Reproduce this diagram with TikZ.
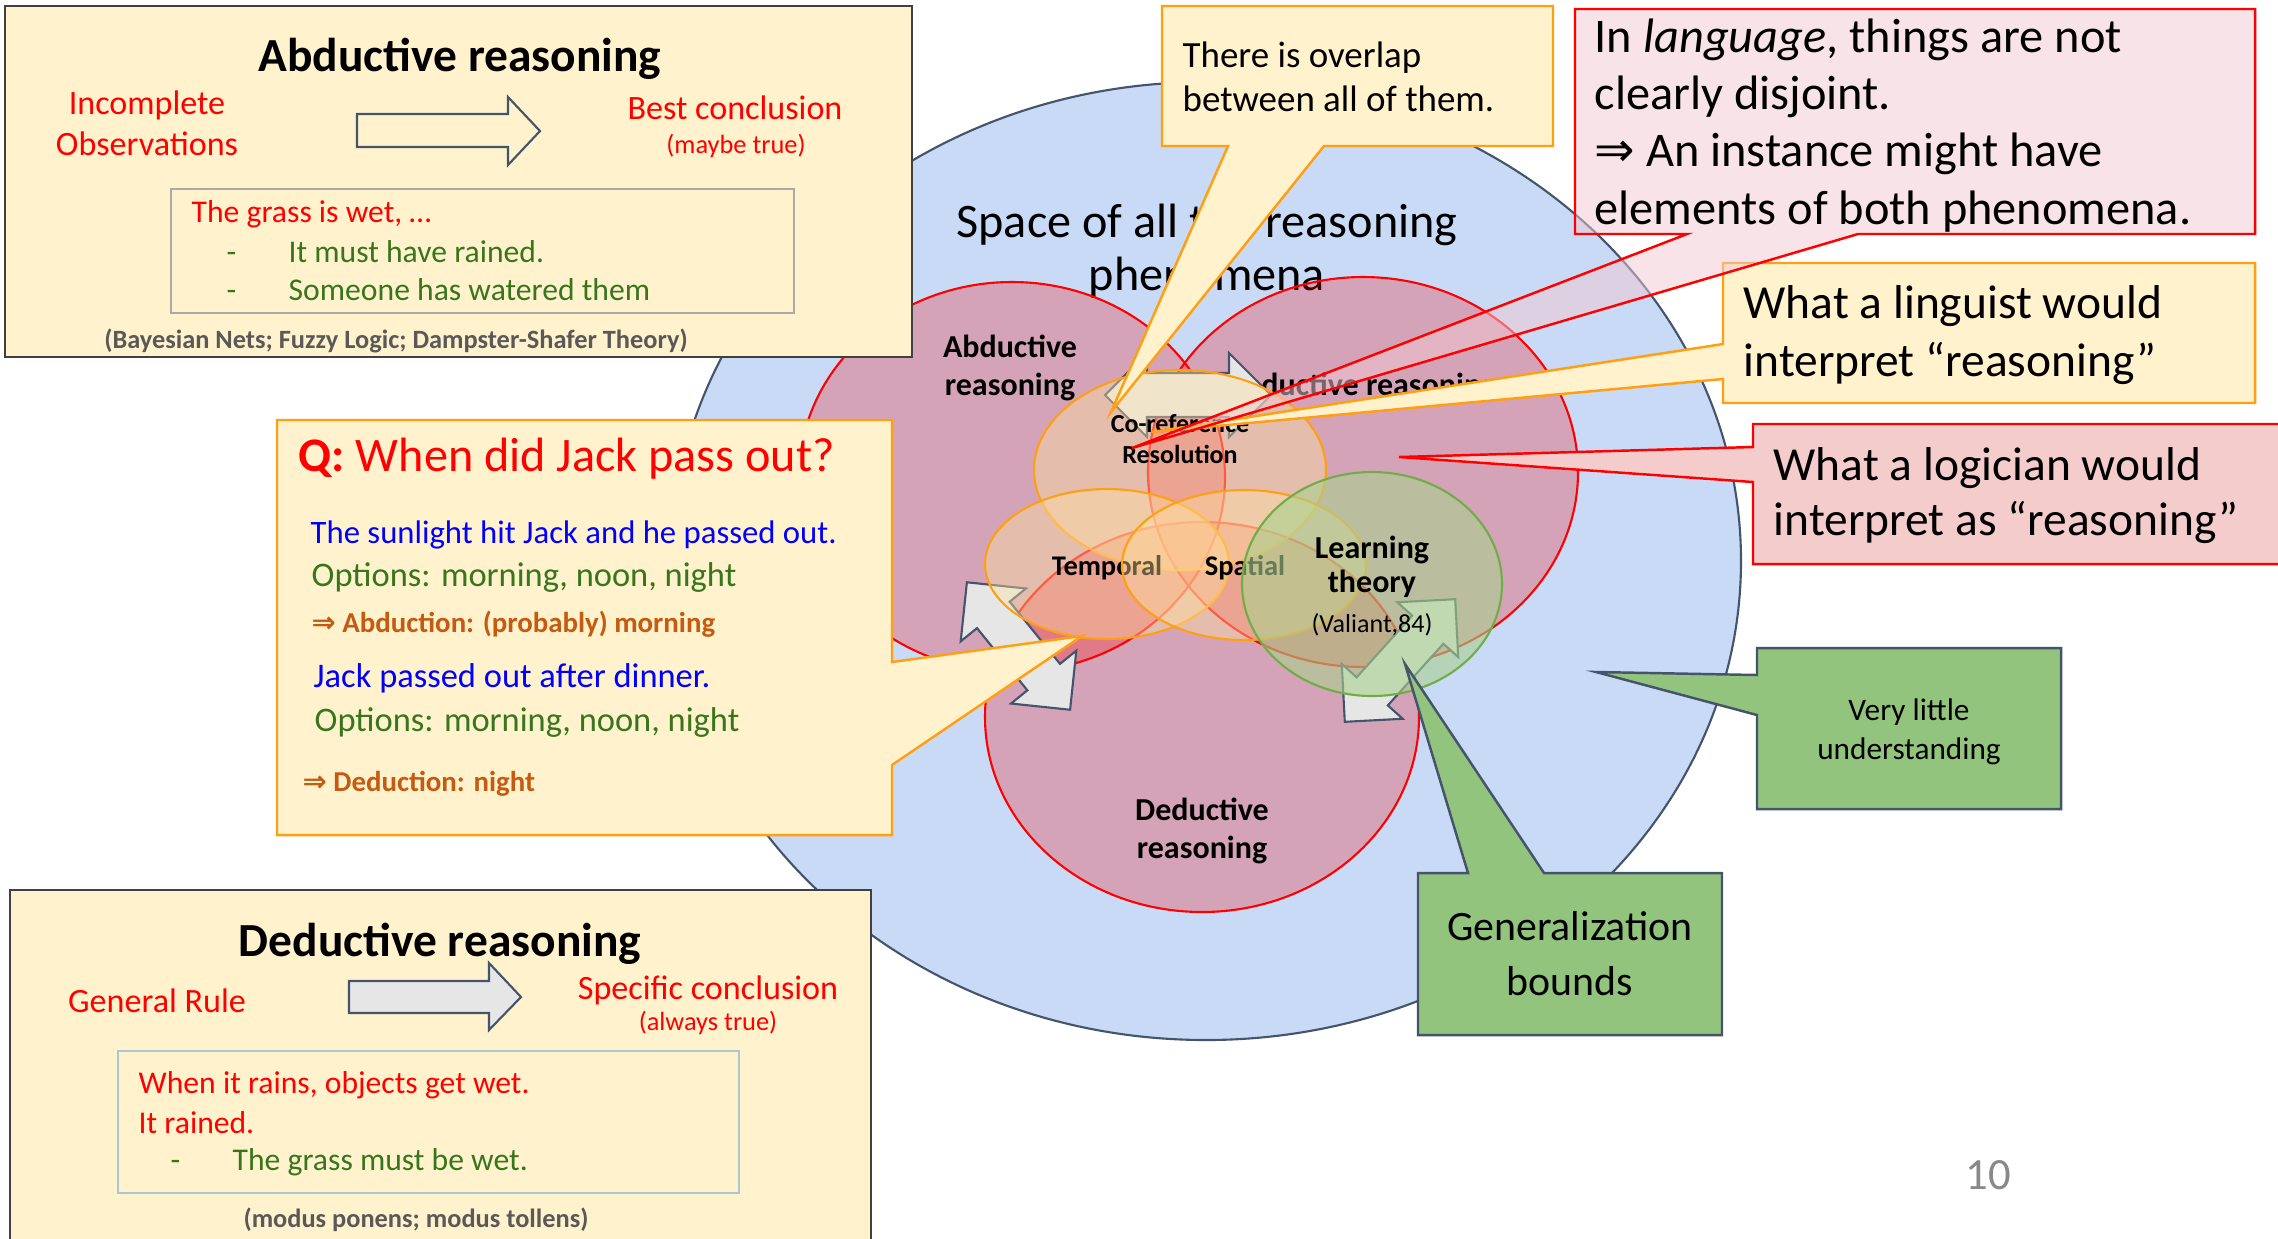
\documentclass[tikz,border=0pt]{standalone}
\usepackage{fontspec}
\setmainfont{Carlito}
\newfontfamily\symfont{DejaVu Sans}
\newcommand\fsz[1]{\fontsize{#1}{#1}\selectfont}
\newcommand\implsym{{\symfont ⇒}}

\definecolor{creamfill}{RGB}{255,242,204}
\definecolor{orangeline}{RGB}{255,160,20}
\definecolor{slate}{RGB}{68,84,106}
\definecolor{skyfill}{RGB}{200,218,245}
\definecolor{boxline}{RGB}{64,64,64}
\definecolor{txtred}{RGB}{255,0,0}
\definecolor{txtgreen}{RGB}{56,118,29}
\definecolor{txtblue}{RGB}{0,0,255}
\definecolor{txtbrown}{RGB}{197,90,17}
\definecolor{notegrey}{RGB}{89,89,89}
\definecolor{leafgreen}{RGB}{147,196,125}
\definecolor{rosefill}{RGB}{242,200,210}
\definecolor{pinkbox}{RGB}{244,204,204}
\definecolor{arrowgrey}{RGB}{231,230,230}
\definecolor{pagegrey}{RGB}{137,137,137}
\definecolor{ellfill}{RGB}{255,228,160}
\definecolor{learnfill}{RGB}{169,209,142}
\definecolor{learnline}{RGB}{112,173,71}
\definecolor{innerA}{RGB}{170,170,170}
\definecolor{innerD}{RGB}{170,200,210}

% double-headed block arrow: centre x, centre y, angle, half length, head half width, shaft half width
\newcommand\dblarrow[6]{%
  \begin{scope}[shift={(#1,#2)}, rotate=#3]
    \draw[greyarrow] (-#4,0) -- ({-#4+#5},-#5) -- ({-#4+#5},-#6) -- ({#4-#5},-#6)
      -- ({#4-#5},-#5) -- (#4,0) -- ({#4-#5},#5) -- ({#4-#5},#6) -- ({-#4+#5},#6)
      -- ({-#4+#5},#5) -- cycle;
  \end{scope}}

\begin{document}
\begin{tikzpicture}[x={(0.01cm,0)}, y={(0,-0.01cm)},
  lbl/.style={inner sep=0pt, anchor=base},
  lbll/.style={inner sep=0pt, anchor=base west},
  redset/.style={draw=red, fill=red, fill opacity=0.25, line width=0.6pt},
  orset/.style={draw=orangeline, fill=ellfill, fill opacity=0.4, line width=0.6pt},
  greyarrow/.style={draw=slate, fill=arrowgrey, line width=0.6pt, line join=miter},
  creamcallout/.style={draw=orangeline, fill=creamfill, line width=0.7pt, line join=miter},
  greencallout/.style={draw=slate, fill=leafgreen, line width=0.7pt, line join=miter},
  infobox/.style={draw=boxline, fill=creamfill, line width=0.7pt},
  circlabel/.style={lbl, font=\fsz{9.1}\bfseries},
]
\useasboundingbox (0,0) rectangle (2278,1238);
\fill[white] (0,0) rectangle (2278,1238);

% ---------- space of all reasoning phenomena ----------
\draw[draw=slate, fill=skyfill, line width=0.6pt] (1206,561) ellipse [x radius=535, y radius=479];
\node[lbl, font=\fsz{13.7}] (space1) at (1207,237) {Space of all the reasoning};
\node[lbl, font=\fsz{13.7}] (space2) at (1207,290) {phenomena};

% ---------- the three reasoning families ----------
\path[redset] (1012,477) ellipse [x radius=213, y radius=195];
\path[redset] (1363,472) ellipse [x radius=215, y radius=195];
\path[redset] (1202,717) ellipse [x radius=217, y radius=195];
\node[circlabel] (abd1) at (1010,357) {Abductive};
\node[circlabel] (abd2) at (1010,395) {reasoning};
\node[circlabel] (ind) at (1366,395) {Inductive reasoning};
\node[circlabel] (ded1) at (1202,820) {Deductive};
\node[circlabel] (ded2) at (1202,858) {reasoning};

% ---------- links between the families ----------
\dblarrow{1188}{395}{0}{83}{42}{22}
\dblarrow{1018.5}{646}{-51}{82}{42}{21}
\dblarrow{1400}{660.5}{48}{82.5}{41}{21}

% ---------- phenomena ----------
\path[orset] (1180,470) ellipse [x radius=146, y radius=100];
\node[lbl, font=\fsz{7.4}\bfseries] (coref1) at (1180,432) {Co-reference};
\node[lbl, font=\fsz{7.4}\bfseries] (coref2) at (1180,463) {Resolution};
\path[orset] (1107,564) ellipse [x radius=122, y radius=75];
\node[lbl, font=\fsz{8.1}\bfseries] (temporal) at (1107,575) {Temporal};
\path[orset] (1244,565) ellipse [x radius=122, y radius=75];
\node[lbl, font=\fsz{8.1}\bfseries] (spatial) at (1245,575) {Spatial};
\path[draw=learnline, fill=learnfill, fill opacity=0.6, line width=0.6pt] (1372,584) ellipse [x radius=130, y radius=112];
\node[lbl, font=\fsz{9.1}\bfseries] (learn1) at (1372,558) {Learning};
\node[lbl, font=\fsz{9.1}\bfseries] (learn2) at (1372,592) {theory};
\node[lbl, font=\fsz{7.4}] (valiant) at (1372,632) {(Valiant,84)};

% ---------- abductive reasoning panel ----------
\draw[infobox] (5,6) rectangle (912,357);
\node[lbl, font=\fsz{13.5}\bfseries] (abdtitle) at (460,71) {Abductive reasoning};
\node[lbl, font=\fsz{9.7}, text=txtred] (incomp1) at (147,114) {Incomplete};
\node[lbl, font=\fsz{9.7}, text=txtred] (incomp2) at (147,155) {Observations};
\draw[slate, line width=0.6pt, line join=miter] (357,114) -- (508,114) -- (508,97) -- (540,131)
  -- (508,165) -- (508,147) -- (357,147) -- cycle;
\node[lbl, font=\fsz{9.7}, text=txtred] (bestc) at (735,119) {Best conclusion};
\node[lbl, font=\fsz{7.5}, text=txtred] (maybe) at (736,153) {(maybe true)};
\draw[innerA, line width=0.6pt] (171,189) rectangle (794,313);
\node[lbll, font=\fsz{9}, text=txtred] (grass) at (191,222) {The grass is wet, …};
\node[lbll, font=\fsz{9}, text=txtgreen] (dashA1) at (226,262) {-};
\node[lbll, font=\fsz{9}, text=txtgreen] (rained) at (288,262) {It must have rained.};
\node[lbll, font=\fsz{9}, text=txtgreen] (dashA2) at (226,300) {-};
\node[lbll, font=\fsz{9}, text=txtgreen] (watered) at (288,300) {Someone has watered them};
\node[lbl, font=\fsz{7.5}\bfseries, text=notegrey] (abdnote) at (396,348) {(Bayesian Nets; Fuzzy Logic; Dampster-Shafer Theory)};

% ---------- deductive reasoning panel ----------
\draw[infobox] (10,890) rectangle (871,1260);
\node[lbl, font=\fsz{13.5}\bfseries] (dedtitle) at (440,956) {Deductive reasoning};
\node[lbl, font=\fsz{9.7}, text=txtred] (genrule) at (157,1012) {General Rule};
\draw[greyarrow] (349,981) -- (489,981) -- (489,963) -- (521,997) -- (489,1030) -- (489,1013) -- (349,1013) -- cycle;
\node[lbl, font=\fsz{9.7}, text=txtred] (specc) at (708,999) {Specific conclusion};
\node[lbl, font=\fsz{7.5}, text=txtred] (always) at (708,1030) {(always true)};
\draw[innerD, line width=0.6pt] (118,1051) rectangle (739,1193);
\node[lbll, font=\fsz{9}, text=txtred] (rains) at (138,1093) {When it rains, objects get wet.};
\node[lbll, font=\fsz{9}, text=txtred] (itrained) at (138,1133) {It rained.};
\node[lbll, font=\fsz{9}, text=txtgreen] (dashD) at (170,1170) {-};
\node[lbll, font=\fsz{9}, text=txtgreen] (mustwet) at (232,1170) {The grass must be wet.};
\node[lbl, font=\fsz{7.5}\bfseries, text=notegrey] (dednote) at (416,1227) {(modus ponens; modus tollens)};

% ---------- question callout ----------
\draw[creamcallout] (277,420) -- (892,420) -- (892,662) -- (1082,636) -- (892,765) -- (892,835) -- (277,835) -- cycle;
\node[lbll, font=\fsz{13.7}, text=txtred] (question) at (298,471) {\textbf{Q:} When did Jack pass out?};
\node[lbll, font=\fsz{9.3}, text=txtblue] (sun) at (310,543) {The sunlight hit Jack and he passed out.};
\node[lbll, font=\fsz{9.8}, text=txtgreen] (opt1) at (311,586) {Options: morning, noon, night};
\node[lbll, font=\fsz{8.2}\bfseries, text=txtbrown] (abduction) at (311,632) {\implsym{} Abduction: (probably) morning};
\node[lbll, font=\fsz{9.8}, text=txtblue] (dinner) at (313,687) {Jack passed out after dinner.};
\node[lbll, font=\fsz{9.8}, text=txtgreen] (opt2) at (314,731) {Options: morning, noon, night};
\node[lbll, font=\fsz{8.2}\bfseries, text=txtbrown] (deduction) at (302,791) {\implsym{} Deduction: night};

% ---------- overlap callout ----------
\draw[creamcallout] (1162,6) -- (1553,6) -- (1553,146) -- (1324,146) -- (1111,412) -- (1228,146) -- (1162,146) -- cycle;
\node[lbll, font=\fsz{10.5}] (overlap1) at (1182,67) {There is overlap};
\node[lbll, font=\fsz{10.5}] (overlap2) at (1182,111) {between all of them.};

% ---------- linguist callout ----------
\draw[creamcallout] (1723,263) -- (2255,263) -- (2255,403) -- (1723,403) -- (1723,379) -- (1152,432) -- (1723,344) -- cycle;
\node[lbll, font=\fsz{13.5}] (ling1) at (1743,318) {What a linguist would};
\node[lbll, font=\fsz{13.5}] (ling2) at (1743,376) {interpret “reasoning”};

% ---------- logician callout ----------
\draw[draw=red, fill=pinkbox, line width=0.7pt, line join=miter] (1753,424) -- (2300,424) -- (2300,564) -- (1753,564) -- (1753,482) -- (1399,457) -- (1753,447) -- cycle;
\node[lbll, font=\fsz{13.5}] (logic1) at (1773,480) {What a logician would};
\node[lbll, font=\fsz{13.5}] (logic2) at (1773,535) {interpret as “reasoning”};

% ---------- language callout ----------
\draw[draw=red, fill=rosefill, fill opacity=0.5, line width=0.7pt, line join=miter] (1575,9) -- (2255,9) -- (2255,234) -- (1858,234) -- (1132,448) -- (1687,234) -- (1575,234) -- cycle;
\node[lbll, font=\fsz{13.75}] (lang1) at (1594,52) {In \textit{language}, things are not};
\node[lbll, font=\fsz{13.75}] (lang2) at (1594,109) {clearly disjoint.};
\node[lbll, font=\fsz{13.75}] (lang3) at (1594,166) {\implsym{} An instance might have};
\node[lbll, font=\fsz{13.75}] (lang4) at (1594,224) {elements of both phenomena.};

% ---------- green callouts ----------
\draw[greencallout] (1757,648) -- (2061,648) -- (2061,809) -- (1757,809) -- (1757,715) -- (1596,672) -- (1757,675) -- cycle;
\node[lbl, font=\fsz{8.9}] (little1) at (1909,720) {Very little};
\node[lbl, font=\fsz{8.9}] (little2) at (1909,759) {understanding};
\draw[greencallout] (1418,873) -- (1468,873) -- (1405,664) -- (1544,873) -- (1722,873) -- (1722,1035) -- (1418,1035) -- cycle;
\node[lbl, font=\fsz{11.9}] (gen1) at (1570,940) {Generalization};
\node[lbl, font=\fsz{11.9}] (gen2) at (1570,995) {bounds};

% ---------- page number ----------
\node[lbl, font=\fsz{12.7}, text=pagegrey] (pagenum) at (1988,1189) {10};
\end{tikzpicture}
\end{document}
